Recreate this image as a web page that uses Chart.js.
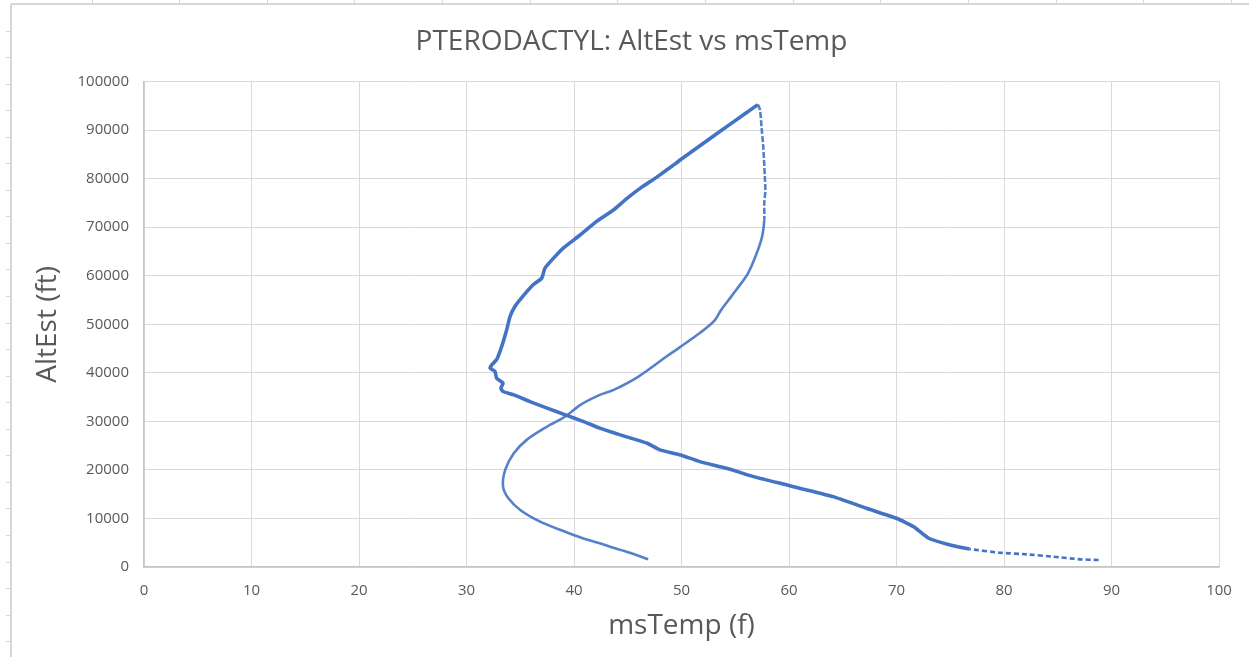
<!DOCTYPE html>
<html>
<head>
<meta charset="utf-8">
<script src="https://cdn.jsdelivr.net/npm/chart.js@4"></script>
<style>
  html, body { margin: 0; padding: 0; background: #ffffff; }
  #wrap { position: relative; width: 1249px; height: 657px; }
</style>
</head>
<body>
<div id="wrap"><canvas id="c" width="1249" height="657"></canvas></div>
<script>
// ---- data ----
const chartTitle = "PTERODACTYL: AltEst vs msTemp";
const xTitle = "msTemp (f)";
const yTitle = "AltEst (ft)";

// ascent (time order, from launch)
const ascentTemp = [88.8, 87.1, 84.6, 82.1, 79.6, 76.8, 75.0, 73.0, 71.6, 70.0, 67.2, 64.1, 59.8, 56.7, 54.2, 51.7, 49.9, 48.0, 46.8, 44.3, 42.4, 40.9, 39.2, 37.5, 35.9, 34.4, 33.4, 33.2, 33.4, 32.8, 32.65, 32.2, 32.35, 32.8, 33.27, 33.74, 34.05, 34.5, 35.1, 36.2, 37.0, 37.3, 38.1, 39.0, 40.6, 42.1, 43.7, 44.9, 46.4, 47.1, 47.8, 49.5, 49.9, 52.3, 54.7, 57.1];
const ascentAlt  = [1440, 1580, 2120, 2610, 2950, 3710, 4540, 5920, 8310, 10040, 12100, 14500, 16900, 18620, 20350, 21710, 23090, 24120, 25500, 27220, 28600, 29960, 31340, 32720, 34080, 35460, 36150, 36850, 37880, 38900, 40270, 40970, 41650, 42700, 45400, 48870, 51610, 53670, 55400, 58140, 59520, 61580, 63640, 65700, 68450, 71200, 73610, 75900, 78410, 79400, 80480, 83200, 83900, 87700, 91500, 95260];

// descent (time order, from burst)
const descentTemp = [57.1, 57.3, 57.45, 57.6, 57.75, 57.8, 57.7, 57.7, 57.5, 57.0, 56.2, 55.1, 54.4, 53.7, 53.0, 51.7, 49.8, 48.6, 46.0, 43.7, 42.4, 40.6, 39.2, 37.5, 35.6, 34.4, 33.6, 33.4, 33.9, 35.0, 36.8, 39.0, 40.8, 42.4, 43.35, 45.2, 46.9];
const descentAlt  = [95260, 94200, 90450, 86700, 80500, 77500, 75000, 71550, 68100, 64680, 60560, 57110, 55050, 53000, 50580, 48200, 45200, 43360, 39240, 36500, 35460, 33400, 31000, 28930, 26190, 23440, 20000, 16560, 14160, 11750, 9400, 7400, 5920, 4890, 4190, 2950, 1590];

const xMin = 0, xMax = 100, xStep = 10;
const yMin = 0, yMax = 100000, yStep = 10000;

// ---- build chart ----
const toPts = (xs, ys) => xs.map((x, i) => ({ x: x, y: ys[i] }));
const FONT = "'Open Sans', 'Noto Sans', sans-serif";
const TXT = '#595959';
const BLUE = '#4472C4';

const sheetFrame = {
  id: 'sheetFrame',
  beforeDraw(chart) {
    const ctx = chart.ctx;
    ctx.save();
    ctx.strokeStyle = '#d6d6d6';
    ctx.lineWidth = 2;
    ctx.beginPath();
    ctx.moveTo(11, 4); ctx.lineTo(chart.width, 4);
    ctx.moveTo(11, 4); ctx.lineTo(11, chart.height);
    ctx.stroke();
    ctx.lineWidth = 1;
    ctx.beginPath();
    for (let y = 30.5; y < chart.height; y += 26.55) { ctx.moveTo(6, Math.round(y) + 0.5); ctx.lineTo(11, Math.round(y) + 0.5); }
    for (let x = 91.5; x < chart.width; x += 87.65) { ctx.moveTo(Math.round(x) + 0.5, 0); ctx.lineTo(Math.round(x) + 0.5, 4); }
    ctx.stroke();
    ctx.restore();
  }
};

new Chart(document.getElementById('c'), {
  type: 'scatter',
  data: {
    datasets: [
      {
        label: 'Ascent',
        data: toPts(ascentTemp, ascentAlt),
        showLine: true,
        borderColor: BLUE,
        backgroundColor: BLUE,
        borderWidth: 3.6,
        pointRadius: 0,
        tension: 0.15,
        segment: {
          borderDash: ctx => (ctx.p0.parsed.x > 77 ? [5, 3] : undefined),
          borderWidth: ctx => (ctx.p0.parsed.x > 77 ? 2.6 : undefined)
        }
      },
      {
        label: 'Descent',
        data: toPts(descentTemp, descentAlt),
        showLine: true,
        borderColor: 'rgba(68,114,196,0.9)',
        backgroundColor: BLUE,
        borderWidth: 2.6,
        pointRadius: 0,
        tension: 0.3,
        segment: {
          borderDash: ctx => (ctx.p0.parsed.y > 74000 ? [6, 2] : undefined)
        }
      }
    ]
  },
  options: {
    responsive: false,
    animation: false,
    devicePixelRatio: 1,
    layout: { padding: { top: 0, left: 14, right: 0, bottom: 0 } },
    plugins: {
      legend: { display: false },
      tooltip: { enabled: false },
      title: {
        display: true,
        text: chartTitle,
        color: TXT,
        font: { family: FONT, size: 28, weight: 'normal' },
        padding: { top: 25, bottom: 23 }
      }
    },
    scales: {
      x: {
        type: 'linear',
        min: xMin, max: xMax,
        ticks: { stepSize: xStep, color: TXT, font: { family: FONT, size: 15 }, padding: 15, maxRotation: 0,
                 callback: v => String(v) },
        grid: { color: '#d9d9d9', lineWidth: 1, drawTicks: false },
        border: { color: '#c6c6c6', width: 1.5 },
        title: { display: true, text: xTitle, color: TXT, font: { family: FONT, size: 28, weight: 'normal' }, padding: { top: 0, bottom: 14 } },
        afterFit: s => { s.height = 90; }
      },
      y: {
        type: 'linear',
        min: yMin, max: yMax,
        ticks: { stepSize: yStep, color: TXT, font: { family: FONT, size: 15 }, padding: 15,
                 callback: v => String(v) },
        grid: { color: '#d9d9d9', lineWidth: 1, drawTicks: false },
        border: { color: '#c6c6c6', width: 1.5 },
        title: { display: true, text: yTitle, color: TXT, font: { family: FONT, size: 28, weight: 'normal' }, padding: { top: 17, bottom: 0 } },
        afterFit: s => { s.width = 130; }
      },
      yR: {
        type: 'linear',
        position: 'right',
        display: true,
        min: yMin, max: yMax,
        ticks: { display: false },
        grid: { display: false, drawTicks: false },
        border: { display: false },
        afterFit: s => { s.width = 30; }
      }
    }
  },
  plugins: [sheetFrame]
});
</script>
</body>
</html>
